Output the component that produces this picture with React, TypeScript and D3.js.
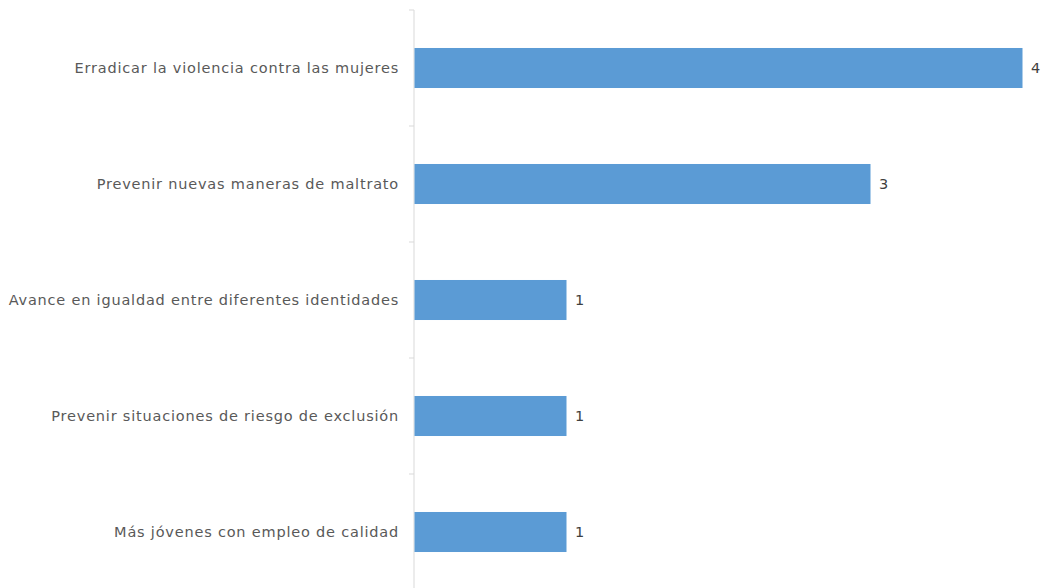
import React, {useEffect, useRef} from 'react';
import * as d3 from "d3";

const categories = [
    "Erradicar la violencia contra las mujeres",
    "Prevenir nuevas maneras de maltrato",
    "Avance en igualdad entre diferentes identidades",
    "Prevenir situaciones de riesgo de exclusión",
    "Más jóvenes con empleo de calidad"
];
const values = [4, 3, 1, 1, 1];

function App() {
    const ref = useRef<SVGSVGElement>(null);
    const width = 1046;
    const height = 588;
    const margin = {top: 10, left: 414, right: 24, bottom: -2};

    useEffect(() => {
        const svg = d3.select(ref.current);
        svg.selectAll("*").remove();
        const x = d3.scaleLinear()
            .domain([0, 4])
            .range([margin.left, margin.left + 608]);
        const y = d3.scaleBand<string>()
            .domain(categories)
            .range([margin.top, height - margin.bottom])
            .paddingInner(0.655)
            .paddingOuter(0.3275);
        const band = y.step();

        // axis line + ticks
        const g = svg.append("g");
        g.append("line")
            .attr("x1", x(0)).attr("x2", x(0))
            .attr("y1", margin.top).attr("y2", height)
            .attr("stroke", "#d9d9d9").attr("stroke-width", 1);
        const tickYs = d3.range(categories.length + 1).map(i => margin.top + i * band);
        g.selectAll(".tick")
            .data(tickYs)
            .enter().append("line")
            .attr("x1", x(0) - 5).attr("x2", x(0))
            .attr("y1", d => d).attr("y2", d => d)
            .attr("stroke", "#d9d9d9");

        const data = categories.map((c, i) => ({c, v: values[i]}));
        svg.append("g").selectAll("rect")
            .data(data)
            .enter().append("rect")
            .attr("x", x(0) + 0.5)
            .attr("y", d => y(d.c)!)
            .attr("width", d => x(d.v) - x(0))
            .attr("height", y.bandwidth())
            .attr("fill", "#5b9bd5");

        svg.append("g").selectAll("text")
            .data(data)
            .enter().append("text")
            .attr("x", x(0) - 15)
            .attr("y", d => y(d.c)! + y.bandwidth() / 2)
            .attr("dy", "0.35em")
            .attr("text-anchor", "end")
            .attr("fill", "#595959")
            .style("font-family", "'DejaVu Sans', Verdana, sans-serif")
            .style("font-size", "14.5px")
            .style("letter-spacing", "0.8px")
            .text(d => d.c);

        svg.append("g").selectAll("text")
            .data(data)
            .enter().append("text")
            .attr("x", d => x(d.v) + 9)
            .attr("y", d => y(d.c)! + y.bandwidth() / 2)
            .attr("dy", "0.35em")
            .attr("fill", "#404040")
            .style("font-family", "'DejaVu Sans', Verdana, sans-serif")
            .style("font-size", "14.5px")
            .text(d => d.v);
    }, []);

    return (
        <svg ref={ref} width={width} height={height}
             style={{position: "absolute", left: 0, top: 0, background: "#fff"}}>
        </svg>
    );
}

export default App;
